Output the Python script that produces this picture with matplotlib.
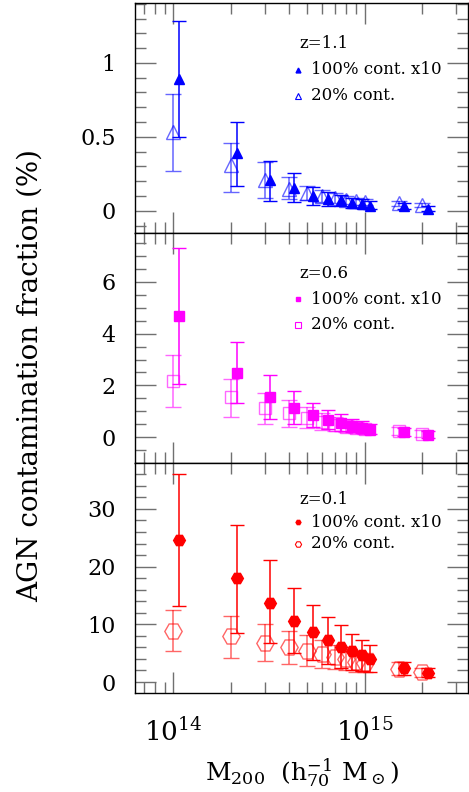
import matplotlib
matplotlib.use("Agg")
import matplotlib.pyplot as plt
from matplotlib.ticker import LogLocator, MultipleLocator, FuncFormatter, NullFormatter

plt.rcParams['font.family'] = ['DejaVu Serif']
plt.rcParams['mathtext.fontset'] = 'dejavuserif'

# ---- data ----
mass = [1e14, 2e14, 3e14, 4e14, 5e14, 6e14, 7e14, 8e14, 9e14, 1e15, 1.5e15, 2e15]
shift = 1.07  # filled points are drawn slightly to the right

# z = 1.1
z11_full = [0.89, 0.39, 0.21, 0.157, 0.10, 0.08, 0.07, 0.055, 0.045, 0.035, 0.03, 0.012]
z11_full_hi = [1.28, 0.60, 0.34, 0.255, 0.16, 0.13, 0.11, 0.09, 0.08, 0.065, 0.05, 0.03]
z11_full_lo = [0.50, 0.17, 0.063, 0.06, 0.04, 0.03, 0.03, 0.02, 0.02, 0.015, 0.015, 0.0]
z11_part = [0.535, 0.31, 0.21, 0.15, 0.12, 0.10, 0.09, 0.07, 0.065, 0.06, 0.05, 0.04]
z11_part_hi = [0.79, 0.46, 0.33, 0.23, 0.17, 0.14, 0.12, 0.10, 0.09, 0.08, 0.065, 0.055]
z11_part_lo = [0.27, 0.13, 0.09, 0.08, 0.07, 0.06, 0.055, 0.045, 0.04, 0.04, 0.035, 0.025]

# z = 0.6
z06_full = [4.69, 2.49, 1.56, 1.11, 0.85, 0.66, 0.55, 0.42, 0.37, 0.29, 0.18, 0.08]
z06_full_hi = [7.3, 3.69, 2.42, 1.79, 1.33, 1.05, 0.89, 0.72, 0.62, 0.50, 0.35, 0.22]
z06_full_lo = [2.05, 1.30, 0.70, 0.50, 0.40, 0.30, 0.25, 0.18, 0.15, 0.12, 0.05, -0.02]
z06_part = [2.18, 1.56, 1.11, 0.92, 0.75, 0.60, 0.47, 0.41, 0.35, 0.31, 0.22, 0.13]
z06_part_hi = [3.17, 2.24, 1.69, 1.43, 1.15, 0.95, 0.78, 0.68, 0.58, 0.52, 0.38, 0.27]
z06_part_lo = [1.15, 0.79, 0.52, 0.41, 0.35, 0.28, 0.22, 0.19, 0.16, 0.14, 0.08, 0.02]

# z = 0.1
z01_full = [24.7, 18.0, 13.7, 10.5, 8.6, 7.3, 6.1, 5.3, 4.7, 4.0, 2.4, 1.6]
z01_full_hi = [36.0, 27.3, 21.1, 16.3, 13.3, 11.3, 9.8, 8.3, 7.3, 6.4, 3.5, 2.4]
z01_full_lo = [13.2, 8.5, 6.8, 5.0, 3.8, 3.2, 2.5, 2.1, 1.9, 1.7, 1.3, 0.9]
z01_part = [8.9, 7.9, 6.8, 6.0, 5.4, 4.85, 4.3, 4.0, 3.5, 3.3, 2.3, 1.7]
z01_part_hi = [12.5, 11.4, 10.0, 8.9, 8.1, 7.2, 6.5, 6.0, 5.4, 5.0, 3.4, 2.5]
z01_part_lo = [5.4, 4.2, 3.6, 3.1, 2.7, 2.4, 2.2, 2.0, 1.8, 1.7, 1.25, 0.85]

panels = [
    dict(z="z=1.1", color="#0000ff", mk="^", ms_full=7.5, ms_part=10.5,
         full=(z11_full, z11_full_lo, z11_full_hi), part=(z11_part, z11_part_lo, z11_part_hi),
         ylim=(-0.15, 1.405), major=0.5, minor=0.1, leg_y=(0.826, 0.709, 0.596)),
    dict(z="z=0.6", color="#ff00ff", mk="s", ms_full=6.5, ms_part=8.5,
         full=(z06_full, z06_full_lo, z06_full_hi), part=(z06_part, z06_part_lo, z06_part_hi),
         ylim=(-1.0, 7.89), major=2, minor=0.5, leg_y=(0.826, 0.713, 0.600)),
    dict(z="z=0.1", color="#ff0000", mk="H", ms_full=8.5, ms_part=12.5,
         full=(z01_full, z01_full_lo, z01_full_hi), part=(z01_part, z01_part_lo, z01_part_hi),
         ylim=(-1.9, 37.96), major=10, minor=2, leg_y=(0.843, 0.743, 0.648)),
]

fig, axes = plt.subplots(3, 1, sharex=True, figsize=(4.69, 7.92), dpi=100)
fig.subplots_adjust(left=135/469, right=0.998, top=1-3/792, bottom=1-693/792, hspace=0)

xs_full = [m * shift for m in mass]

for ax, p in zip(axes, panels):
    c = p['color']
    y, lo, hi = p['part']
    ax.errorbar(mass, y, yerr=[[a - b for a, b in zip(y, lo)], [b - a for a, b in zip(y, hi)]],
                fmt=p['mk'], ms=p['ms_part'], mfc='none', mec=c, mew=1.0, ecolor=c,
                elinewidth=1.1, capsize=6, capthick=1.1, alpha=0.6)
    y, lo, hi = p['full']
    ax.errorbar(xs_full, y, yerr=[[a - b for a, b in zip(y, lo)], [b - a for a, b in zip(y, hi)]],
                fmt=p['mk'], ms=p['ms_full'], mfc=c, mec=c, mew=1.0, ecolor=c,
                elinewidth=1.1, capsize=5, capthick=1.1)

    ax.set_xscale('log')
    ax.set_xlim(6.3e13, 3.46e15)
    ax.set_ylim(*p['ylim'])
    ax.yaxis.set_major_locator(MultipleLocator(p['major']))
    ax.yaxis.set_minor_locator(MultipleLocator(p['minor']))
    ax.yaxis.set_major_formatter(FuncFormatter(lambda v, pos: '%g' % v))
    ax.xaxis.set_major_locator(LogLocator(base=10, numticks=10))
    ax.xaxis.set_minor_locator(LogLocator(base=10, subs=range(2, 10), numticks=10))
    ax.xaxis.set_minor_formatter(NullFormatter())
    ax.tick_params(which='both', direction='in', top=True, right=True, color='#707070', width=1.0)
    ax.tick_params(which='major', length=15, labelsize=16, pad=9)
    ax.tick_params(which='minor', length=8)
    ax.tick_params(axis='y', which='major', pad=14)
    for s in ax.spines.values():
        s.set_linewidth(1.0)

    # legend block
    ly = p['leg_y']
    ax.text(0.494, ly[0], p['z'], transform=ax.transAxes, fontsize=12, va='center', ha='left')
    ax.plot([0.488], [ly[1]], marker=p['mk'], ms=3.5, color=c, transform=ax.transAxes, ls='none')
    ax.text(0.527, ly[1], "100% cont. x10", transform=ax.transAxes, fontsize=12, va='center', ha='left')
    ax.plot([0.488], [ly[2]], marker=p['mk'], ms=4.5, mfc='none', mec=c, mew=0.8,
            transform=ax.transAxes, ls='none')
    ax.text(0.527, ly[2], "20% cont.", transform=ax.transAxes, fontsize=12, va='center', ha='left')

axes[-1].tick_params(axis='x', which='major', pad=18, labelsize=19)
axes[-1].set_xlabel(r'M$_{200}$  (h$_{70}^{-1}$ M$_\odot$)', fontsize=18, labelpad=8)
fig.text(30/469, 1-375/792, 'AGN contamination fraction (%)', rotation=90,
         fontsize=20, ha='center', va='center')

fig.savefig('out.png', dpi=100)
